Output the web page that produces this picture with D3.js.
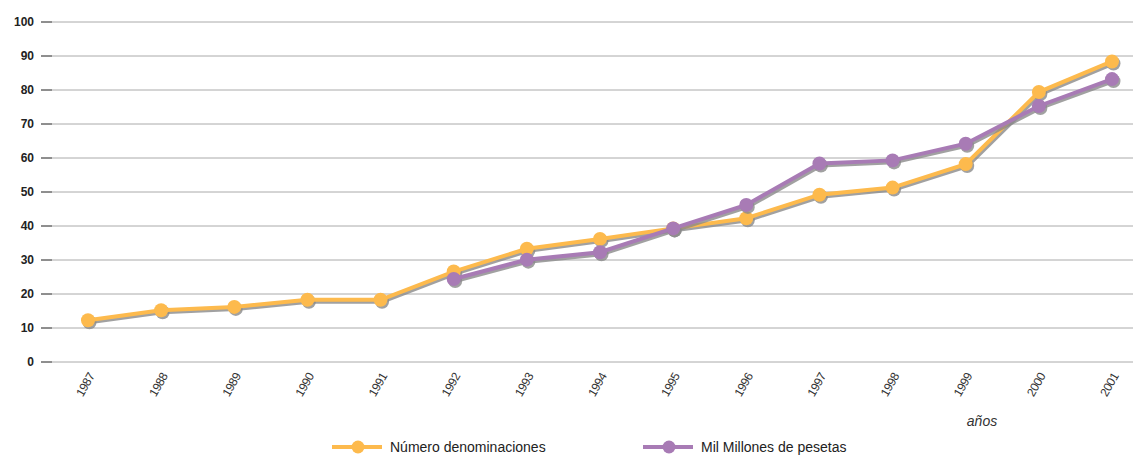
<!DOCTYPE html>
<html>
<head>
<meta charset="utf-8">
<style>
    body { margin: 0; background: #fff; }
    svg { display: block; font-family: "Liberation Sans", Arial, sans-serif; }
    .ylab { font-size: 12px; font-weight: bold; fill: #222; }
    .xlab { font-size: 12px; fill: #333; letter-spacing: -0.5px; }
    .legend-label { font-family: "Liberation Sans Narrow", "Liberation Sans", Arial, sans-serif; font-size: 14px; fill: #222; }
</style>
</head>
<body>
<svg width="1133" height="456"></svg>
<script src="https://d3js.org/d3.v7.min.js"></script>
<script>
    // data
    let years = [1987, 1988, 1989, 1990, 1991, 1992, 1993, 1994, 1995, 1996, 1997, 1998, 1999, 2000, 2001]
    let numero = [12.3, 15.2, 16.2, 18.3, 18.3, 26.6, 33.3, 36.2, 39.3, 42.3, 49.2, 51.3, 58.2, 79.4, 88.4]
    let millones = [null, null, null, null, null, 24.4, 30.1, 32.3, 39.3, 46.2, 58.4, 59.3, 64.2, 75.3, 83.2]
    let yTicks = [0, 10, 20, 30, 40, 50, 60, 70, 80, 90, 100]
    let seriesNames = ["Número denominaciones", "Mil Millones de pesetas"]
    let seriesColors = ["#fdba4d", "#a87bb5"]

    let svg = d3.select("svg")

    let x = d3.scalePoint()
        .domain(years)
        .range([88, 1112])

    let y = d3.scaleLinear()
        .domain([0, 100])
        .range([362, 22])

    // grid + little tick marks
    svg.append("g")
        .selectAll("line")
        .data(yTicks)
        .join("line")
        .attr("x1", 41)
        .attr("x2", 1133)
        .attr("y1", d => y(d))
        .attr("y2", d => y(d))
        .style("stroke", "#aaa")
        .style("stroke-width", 1)

    svg.append("g")
        .selectAll("line")
        .data(yTicks)
        .join("line")
        .attr("x1", 41)
        .attr("x2", 52)
        .attr("y1", d => y(d))
        .attr("y2", d => y(d))
        .style("stroke", "#777")
        .style("stroke-width", 1.5)

    svg.append("g")
        .selectAll("text")
        .data(yTicks)
        .join("text")
        .attr("class", "ylab")
        .attr("x", 34)
        .attr("y", d => y(d))
        .attr("dy", "0.35em")
        .attr("text-anchor", "end")
        .text(d => d)

    // rotated year labels
    svg.append("g")
        .selectAll("text")
        .data(years)
        .join("text")
        .attr("class", "xlab")
        .attr("text-anchor", "end")
        .attr("transform", d => "translate(" + (x(d) + 7) + ",376) rotate(-60)")
        .text(d => d)

    svg.append("text")
        .attr("x", 982)
        .attr("y", 426)
        .attr("text-anchor", "middle")
        .style("font-size", "14px")
        .style("font-style", "italic")
        .style("fill", "#333")
        .text("años")

    let line = d3.line()
        .defined(d => d.v != null)
        .x(d => x(d.year))
        .y(d => y(d.v))

    let allSeries = [numero, millones].map(vals => years.map((yr, i) => ({ year: yr, v: vals[i] })))

    // shadows first, then coloured lines (orange drawn first, purple on top)
    allSeries.forEach(function (s, k) {
        let g = svg.append("g")
        let pts = s.filter(d => d.v != null)
        g.append("path")
            .attr("d", line(s))
            .attr("transform", "translate(1.5,2)")
            .style("fill", "none")
            .style("stroke", "#8a8a8a")
            .style("stroke-width", 4)
            .style("opacity", 0.8)
        g.selectAll("circle.sh")
            .data(pts)
            .join("circle")
            .attr("class", "sh")
            .attr("cx", d => x(d.year) + 1.5)
            .attr("cy", d => y(d.v) + 2)
            .attr("r", 7)
            .style("fill", "#8a8a8a")
            .style("opacity", 0.8)
        g.append("path")
            .attr("d", line(s))
            .style("fill", "none")
            .style("stroke", seriesColors[k])
            .style("stroke-width", 4)
        g.selectAll("circle.pt")
            .data(pts)
            .join("circle")
            .attr("class", "pt")
            .attr("cx", d => x(d.year))
            .attr("cy", d => y(d.v))
            .attr("r", 7)
            .style("fill", seriesColors[k])
    })

    // legend
    let legendX = [332, 643]
    seriesNames.forEach(function (name, k) {
        let lg = svg.append("g").attr("transform", "translate(" + legendX[k] + ",447)")
        lg.append("line")
            .attr("x1", 0).attr("x2", 50)
            .attr("y1", 0).attr("y2", 0)
            .style("stroke", seriesColors[k])
            .style("stroke-width", 4)
        lg.append("circle")
            .attr("cx", 26).attr("cy", 0).attr("r", 6.5)
            .style("fill", seriesColors[k])
        lg.append("text")
            .attr("class", "legend-label")
            .attr("x", 58)
            .attr("y", 0)
            .attr("dy", "0.35em")
            .text(name)
    })
</script>
</body>
</html>
